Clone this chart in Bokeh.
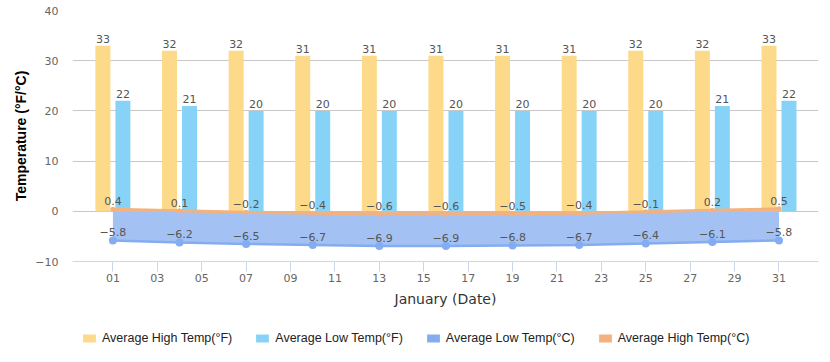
from bokeh.plotting import figure
from bokeh.layouts import column
from bokeh.models import Range1d, FixedTicker, Legend, LegendItem, ColumnDataSource, LabelSet
from bokeh.transform import dodge
from bokeh.embed import file_html
from bokeh.resources import INLINE
from bokeh.core.properties import value

# ---- data ----
dates = [1, 4, 7, 10, 13, 16, 19, 22, 25, 28, 31]
high_f = [33, 32, 32, 31, 31, 31, 31, 31, 32, 32, 33]
low_f = [22, 21, 20, 20, 20, 20, 20, 20, 20, 21, 22]
low_c = [-5.8, -6.2, -6.5, -6.7, -6.9, -6.9, -6.8, -6.7, -6.4, -6.1, -5.8]
high_c = [0.4, 0.1, -0.2, -0.4, -0.6, -0.6, -0.5, -0.4, -0.1, 0.2, 0.5]
x_ticks = [1, 3, 5, 7, 9, 11, 13, 15, 17, 19, 21, 23, 25, 27, 29, 31]
x_tick_labels = ["01", "03", "05", "07", "09", "11", "13", "15", "17", "19",
                 "21", "23", "25", "27", "29", "31"]
y_ticks = [-10, 0, 10, 20, 30, 40]
y_tick_labels = ["\u221210", "0", "10", "20", "30", "40"]
series_names = ["Average High Temp(°F)", "Average Low Temp(°F)",
                "Average Low Temp(°C)", "Average High Temp(°C)"]
x_title = "January (Date)"
y_title = "Temperature (°F/°C)"


def fmt(v):
    return f"{v:g}".replace("-", "\u2212")


src = ColumnDataSource(dict(
    date=dates, high_f=high_f, low_f=low_f, low_c=low_c, high_c=high_c,
    high_f_lbl=[fmt(v) for v in high_f], low_f_lbl=[fmt(v) for v in low_f],
    low_c_lbl=[fmt(v) for v in low_c], high_c_lbl=[fmt(v) for v in high_c],
))

C_HF = "#fdd98a"
C_LF = "#87d3f8"
C_LC_FILL = "#a3c2f3"
C_LC = "#84acf0"
C_HC = "#f3b17e"

TICK_FONT = "DejaVu Sans"
W = 822

p = figure(width=W, height=320, output_backend="svg", toolbar_location=None,
           x_range=Range1d(-0.82, 32.78), y_range=Range1d(-10, 40),
           min_border_left=72, min_border_right=4, min_border_top=10, min_border_bottom=59)
p.outline_line_color = None
p.background_fill_color = "white"
p.border_fill_color = "white"

# bars
p.vbar(x=dodge("date", -0.45), top="high_f", bottom=0, width=0.675,
       fill_color=C_HF, line_color=None, source=src)
p.vbar(x=dodge("date", 0.45), top="low_f", bottom=0, width=0.675,
       fill_color=C_LF, line_color=None, source=src)

# areas
p.varea(x="date", y1="low_c", y2=0, fill_color=C_LC_FILL, source=src)
p.varea(x="date", y1="high_c", y2=0, fill_color=C_HC, fill_alpha=0.75, source=src)
p.line(x="date", y="low_c", line_color=C_LC, line_width=2.5, source=src)
p.scatter(x="date", y="low_c", size=8, fill_color=C_LC, line_color=None, source=src)
p.line(x="date", y="high_c", line_color=C_HC, line_width=3, source=src)
p.scatter(x="date", y="high_c", size=5, fill_color=C_HC, line_color=None, source=src)

# data labels
lbl_kw = dict(source=src, text_align="center", text_baseline="bottom",
              text_font_size="11px", text_color="#555555", text_font=value(TICK_FONT))
p.add_layout(LabelSet(x=dodge("date", -0.45), y="high_f", text="high_f_lbl", y_offset=3, **lbl_kw))
p.add_layout(LabelSet(x=dodge("date", 0.45), y="low_f", text="low_f_lbl", y_offset=3, **lbl_kw))
p.add_layout(LabelSet(x="date", y="high_c", text="high_c_lbl", y_offset=4, **lbl_kw))
p.add_layout(LabelSet(x="date", y="low_c", text="low_c_lbl", y_offset=4, **lbl_kw))

# axes
xa = p.xaxis[0]
xa.ticker = FixedTicker(ticks=x_ticks)
xa.major_label_overrides = dict(zip(x_ticks, x_tick_labels))
xa.axis_line_color = "#ccd6eb"
xa.major_tick_line_color = "#ccd6eb"
xa.major_tick_out = 10
xa.major_tick_in = 0
xa.minor_tick_line_color = None
xa.major_label_standoff = 2
xa.major_label_text_font = TICK_FONT
xa.major_label_text_font_size = "11px"
xa.major_label_text_color = "#666666"
xa.axis_label = x_title
xa.axis_label_text_font = TICK_FONT
xa.axis_label_text_font_size = "14px"
xa.axis_label_text_font_style = "normal"
xa.axis_label_text_color = "#333333"
xa.axis_label_standoff = 6

ya = p.yaxis[0]
ya.ticker = FixedTicker(ticks=y_ticks)
ya.major_label_overrides = dict(zip(y_ticks, y_tick_labels))
ya.axis_line_color = None
ya.major_tick_line_color = None
ya.minor_tick_line_color = None
ya.major_tick_out = 0
ya.major_tick_in = 0
ya.major_label_standoff = 14
ya.major_label_text_font = TICK_FONT
ya.major_label_text_font_size = "11px"
ya.major_label_text_color = "#666666"
ya.axis_label = y_title
ya.axis_label_text_font = "Liberation Sans"
ya.axis_label_text_font_size = "14px"
ya.axis_label_text_font_style = "bold"
ya.axis_label_text_color = "#000000"
ya.axis_label_standoff = 3

p.xgrid.grid_line_color = None
p.ygrid.ticker = FixedTicker(ticks=y_ticks)
p.ygrid.grid_line_color = "#c8c8c8"

# ---- legend strip below the chart ----
lg = figure(width=W, height=34, output_backend="svg", toolbar_location=None,
            x_range=Range1d(0, 1), y_range=Range1d(0, 1), min_border=0)
lg.axis.visible = False
lg.grid.grid_line_color = None
lg.outline_line_color = None
lg.background_fill_color = "white"
lg.border_fill_color = "white"
swatch_colors = [C_HF, C_LF, C_LC, C_HC]
swatches = [lg.vbar(x="date", top=0, bottom=0, width=0, fill_color=c, line_color=None, source=src)
            for c in swatch_colors]
legend = Legend(items=[LegendItem(label=n, renderers=[r]) for n, r in zip(series_names, swatches)],
                orientation="horizontal", location=(9, 9),
                glyph_width=16, glyph_height=10, label_standoff=5, spacing=22,
                label_text_font="Liberation Sans", label_text_font_size="12.5px",
                label_text_color="#222222", border_line_color=None, background_fill_alpha=0,
                margin=0, padding=0, label_height=12)
lg.add_layout(legend, "center")

layout = column(p, lg, spacing=0)

open("out.html", "w").write(file_html(layout, INLINE))
